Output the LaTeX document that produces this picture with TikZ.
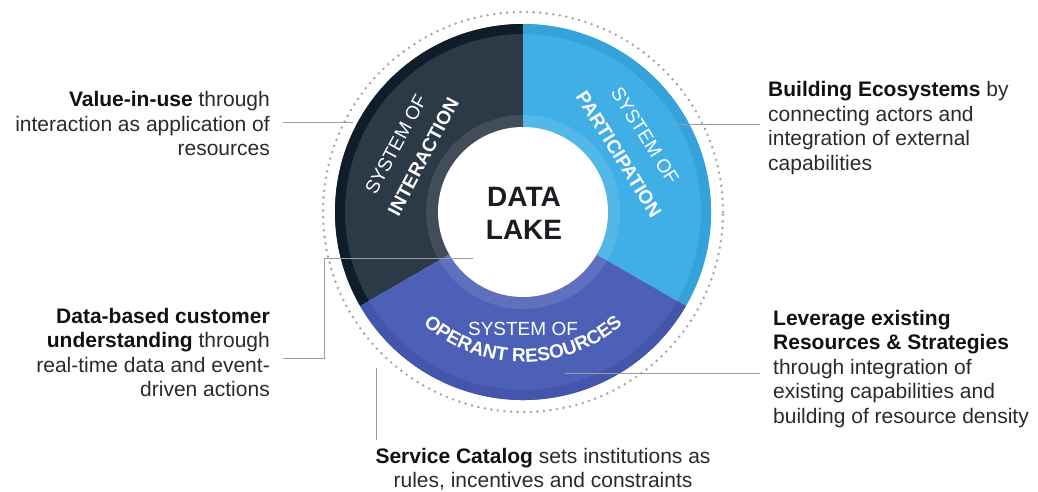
\documentclass[tikz,border=0pt]{standalone}
\usepackage{fontspec}
\setmainfont{Liberation Sans}
\usetikzlibrary{decorations.text}

\definecolor{interDark}{HTML}{2C3A47}
\definecolor{interBand}{HTML}{0F1C2A}
\definecolor{partBlue}{HTML}{40AFE5}
\definecolor{partBand}{HTML}{36A2DA}
\definecolor{operPurple}{HTML}{4D60B8}
\definecolor{operBand}{HTML}{4456AC}
\definecolor{txtgray}{HTML}{2A2A2A}
\definecolor{boldtxt}{HTML}{111111}
\definecolor{linegray}{HTML}{9C9C9C}
\definecolor{dotgray}{HTML}{A6A6A6}
\definecolor{lakeText}{HTML}{1A1D22}

\newcommand\keyterm[1]{\textbf{\color{boldtxt}#1}}

\begin{document}
\begin{tikzpicture}[x=1pt,y=1pt,
  side/.style={inner ysep=0pt, font=\fontsize{21}{24.5}\selectfont, text=txtgray},
  link/.style={draw=linegray, line width=0.8pt},
  ringlbl/.style={text=white, inner sep=0pt, font=\fontsize{19}{22}\selectfont},
  ringbold/.style={text=white, inner sep=0pt, font=\fontsize{19}{22}\selectfont\bfseries},
  dots/.style={draw=dotgray, line width=2.8pt, line cap=round, dash pattern=on 0pt off 6.6pt},
]
\useasboundingbox (0,0) rectangle (1038,-491);

% ---- the three systems around the data lake ----
\begin{scope}[shift={(523,-212)}]
  % system of interaction
  \fill[interDark] (0,0) -- (90:188) arc[start angle=90, end angle=210, radius=188] -- cycle;
  \fill[interBand] (90:188) arc[start angle=90, end angle=210, radius=188]
     -- (210:178) arc[start angle=210, end angle=90, radius=178] -- cycle;
  % system of participation
  \fill[partBlue] (0,0) -- (-30:188) arc[start angle=-30, end angle=90, radius=188] -- cycle;
  \fill[partBand] (-30:188) arc[start angle=-30, end angle=90, radius=188]
     -- (90:178) arc[start angle=90, end angle=-30, radius=178] -- cycle;
  % system of operant resources
  \fill[operPurple] (0,0) -- (210:188) arc[start angle=210, end angle=330, radius=188] -- cycle;
  \fill[operBand] (210:188) arc[start angle=210, end angle=330, radius=188]
     -- (330:178) arc[start angle=330, end angle=210, radius=178] -- cycle;
  % halo and core
  \fill[white, opacity=0.10] (0,0) circle (97);
  \fill[white] (0,0) circle (85);
  % dotted outer boundary
  \draw[dots] (0,0) circle (200);

  % sector labels
  \node[ringlbl, rotate=62] (intA) at (152:144) {SYSTEM OF};
  \node[ringbold, rotate=62] (intB) at (151:114) {INTERACTION};
  \node[ringlbl, rotate=-58] (parA) at (32:144) {SYSTEM OF};
  \node[ringbold, rotate=-58] (parB) at (31:112) {PARTICIPATION};
  \node[ringlbl] (opA) at (270:117) {SYSTEM OF};
  \path[decorate, decoration={text along path, text align=center, text color=white,
        text={|\fontsize{19}{22}\selectfont\bfseries|OPERANT RESOURCES}}]
     (228:150) arc[start angle=228, end angle=312, radius=150];
\end{scope}

\node[font=\fontsize{28}{33.5}\selectfont\bfseries, text=lakeText, align=center, inner sep=0pt]
  (lake) at (524,-213.3) {DATA\\LAKE};

% ---- explanatory texts ----
\node[side, anchor=north east, inner xsep=13pt, align=right] (valtxt) at (283,-89.5)
  {\strut\keyterm{Value-in-use} through\\interaction as application of\\resources};
\node[side, anchor=north west, inner xsep=8pt, align=left] (ecotxt) at (760,-79.5)
  {\strut\keyterm{Building Ecosystems} by\\connecting actors and\\integration of external\\capabilities};
\node[side, anchor=north east, inner xsep=13pt, align=right] (custtxt) at (283,-305.9)
  {\strut\keyterm{Data-based customer}\\\keyterm{understanding} through\\real-time data and event-\\driven actions};
\node[side, anchor=north west, inner xsep=13pt, align=left] (levtxt) at (760,-307.9)
  {\strut\keyterm{Leverage existing}\\\keyterm{Resources \& Strategies}\\through integration of\\existing capabilities and\\building of resource density};
\node[side, anchor=north, align=center] (svctxt) at (543,-445.9)
  {\strut\keyterm{Service Catalog} sets institutions as\\rules, incentives and constraints};

% ---- leader lines ----
\coordinate (c1) at (353,-123);
\coordinate (c2) at (673,-124);
\coordinate (k3) at (324,-258);
\coordinate (e3) at (473,-258);
\coordinate (c4) at (376,-368);
\coordinate (c5) at (565,-373);

\draw[link] (valtxt.east) -- (valtxt.east -| c1);
\draw[link] (c2) -- (c2 -| ecotxt.west);
\draw[link] ([yshift=-6.5pt]custtxt.east) -| (k3) -- (e3);
\draw[link, shorten >=6pt] (c4) -- (c4 |- svctxt.north);
\draw[link] (c5) -- (c5 -| levtxt.west);
\end{tikzpicture}
\end{document}
